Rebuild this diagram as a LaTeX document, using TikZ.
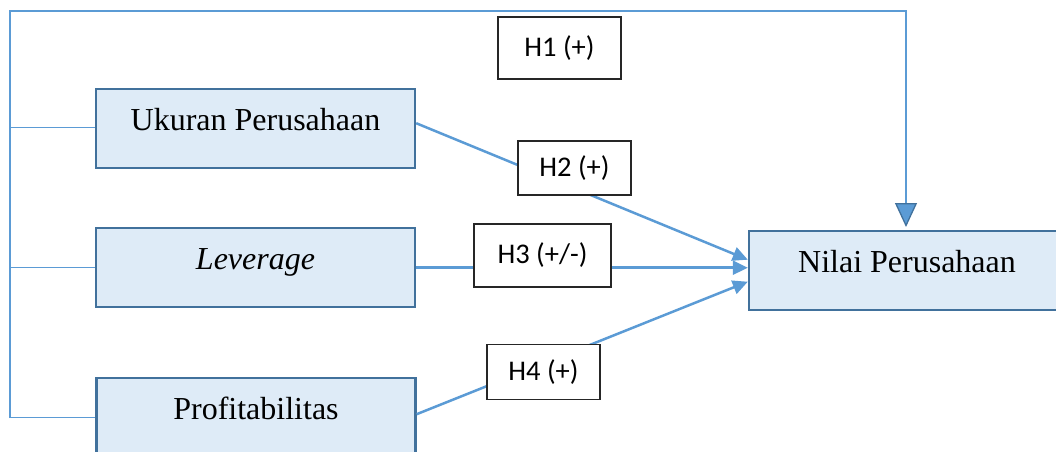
\documentclass[tikz,border=0pt]{standalone}
\usepackage{fontspec}
\setmainfont{Liberation Serif}
\newfontfamily\calibri{Carlito}
\usepackage{tikz}
\usetikzlibrary{arrows.meta,calc}
\definecolor{varfill}{RGB}{222,235,247}
\definecolor{varline}{RGB}{65,113,156}
\definecolor{linkblue}{RGB}{91,155,213}

\begin{document}
\begin{tikzpicture}[x=1pt,y=-1pt,>={Triangle[length=15pt,width=14pt]},
  var/.style={draw=varline,fill=varfill,line width=2.4pt,anchor=north,minimum width=319pt,inner sep=0pt,text height=41pt,text depth=38pt,font=\fontsize{32}{38}\selectfont},
  hyp/.style={draw=black!85,fill=white,line width=1.3pt,inner sep=0pt,font=\calibri\fontsize{28.5}{34}\selectfont},
  link/.style={draw=linkblue,line width=2.5pt},
  frame/.style={draw=linkblue,line width=1.3pt}]
\useasboundingbox (0,0) rectangle (1056,451);

		\node[var]
		(ukuran) at (255.5,88) 	{Ukuran Perusahaan};
		\node[var]
		(leverage) at (255.5,227) 	{\textit{Leverage}};
		\node[var]
		(profit) at (256,377) 		{Profitabilitas};
		\node[var,minimum width=316pt]
		(nilai) at (907,230) 		{Nilai Perusahaan};

		% simultaneous path H1
		\coordinate (tl) at (10,11);
		\coordinate (bl) at (10,418);
		\draw[frame] ([yshift=1.5pt]ukuran.west) -- ([yshift=1.5pt]ukuran.west -| tl);
		\draw[frame] (leverage.west) -- (leverage.west -| tl);
		\draw[frame] (profit.west) -- (profit.west -| bl);
		\draw[frame,-{Triangle[length=24pt,width=22pt,color=varline,fill=linkblue]}]
			(bl) -- (tl) -| ([xshift=-1pt,yshift=3pt]nilai.north);

		\draw[link,->] ([yshift=5.5pt]ukuran.east) -- ([yshift=11pt]nilai.west);
		\draw[link,->] (leverage.east) -- (leverage.east -| nilai.west);
		\draw[link,->] ([yshift=3.5pt]profit.east) -- ([yshift=-11pt]nilai.west);

		\node[hyp,minimum width=123pt,minimum height=62pt]
		(h1) at (559.5,48) 	{H1 (+)};
		\node[hyp,minimum width=113pt,minimum height=54pt]
		(h2) at (574.5,168) 	{H2 (+)};
		\node[hyp,minimum width=137pt,minimum height=63pt]
		(h3) at (542.5,255.5) 	{H3 (+/-)};
		\node[hyp,minimum width=113pt,minimum height=55pt]
		(h4) at (543.5,372) 	{H4 (+)};
\end{tikzpicture}
\end{document}
